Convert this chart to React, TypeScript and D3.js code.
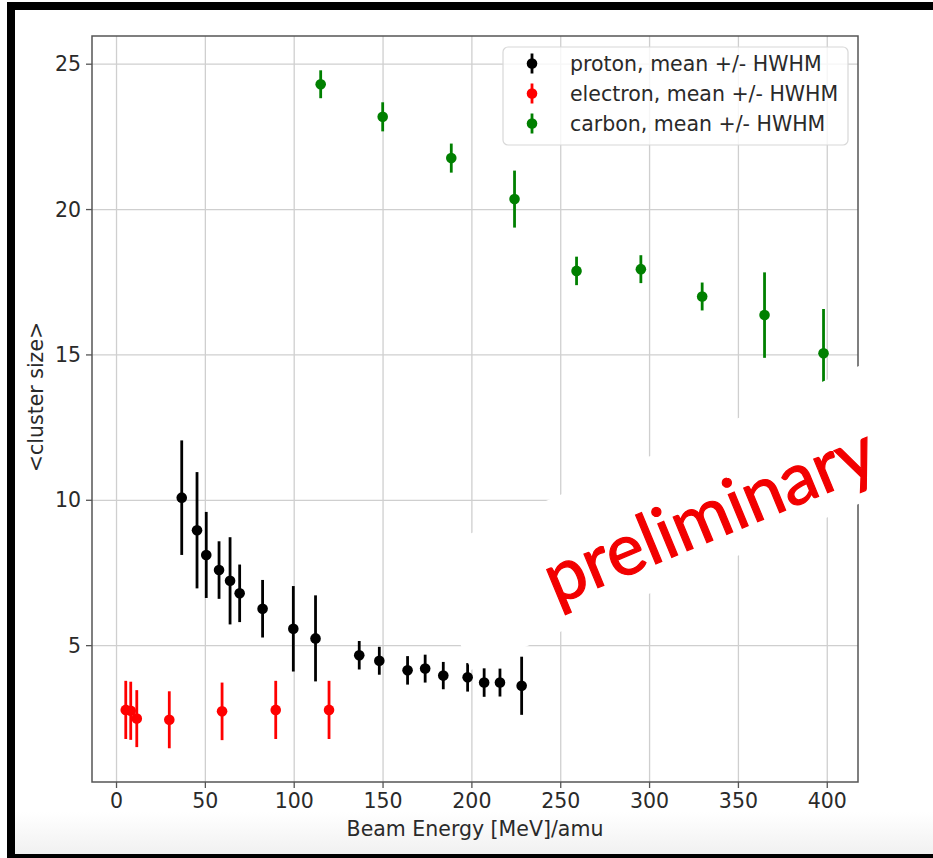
import React from "react";
import * as d3 from "d3";

// Mean cluster size vs. beam energy, with half width at half maximum as error
const protonEnergy = [36.7, 45.3, 50.5, 57.7, 63.9, 69.3, 82.2, 99.5, 112.0, 136.6, 147.9, 163.8, 173.7, 183.9, 197.6, 206.9, 215.8, 228.0];
const protonMean = [10.09, 8.97, 8.12, 7.6, 7.23, 6.8, 6.27, 5.58, 5.25, 4.67, 4.48, 4.15, 4.21, 3.97, 3.91, 3.73, 3.73, 3.62];
const protonHWHM = [1.97, 2.0, 1.48, 0.99, 1.5, 0.99, 0.99, 1.47, 1.48, 0.49, 0.48, 0.49, 0.48, 0.47, 0.49, 0.49, 0.48, 1.0];

const electronEnergy = [5.2, 8.0, 11.4, 29.7, 59.4, 89.6, 119.6];
const electronMean = [2.79, 2.76, 2.49, 2.45, 2.74, 2.79, 2.79];
const electronHWHM = [1.0, 1.0, 0.98, 0.98, 0.99, 1.0, 1.0];

const carbonEnergy = [114.9, 149.8, 188.4, 224.0, 258.9, 295.1, 329.6, 364.7, 397.9];
const carbonMean = [24.31, 23.19, 21.77, 20.36, 17.89, 17.95, 17.01, 16.37, 15.06];
const carbonHWHM = [0.48, 0.5, 0.5, 0.98, 0.49, 0.48, 0.48, 1.47, 1.52];

const xTicks = [0, 50, 100, 150, 200, 250, 300, 350, 400];
const yTicks = [5, 10, 15, 20, 25];

const seriesNames = ["proton, mean +/- HWHM", "electron, mean +/- HWHM", "carbon, mean +/- HWHM"];
const seriesColors = ["#000000", "#ff0000", "#008000"];

const W = 933;
const H = 858;
const plot = { left: 92, right: 858, top: 36, bottom: 782 };
const FONT = "'DejaVu Sans', sans-serif";

export default function App() {
  const x = d3.scaleLinear().domain([-13.8, 417.3]).range([plot.left, plot.right]);
  const y = d3.scaleLinear().domain([0.31, 25.97]).range([plot.bottom, plot.top]);

  const series = [
    { e: protonEnergy, m: protonMean, h: protonHWHM },
    { e: electronEnergy, m: electronMean, h: electronHWHM },
    { e: carbonEnergy, m: carbonMean, h: carbonHWHM },
  ];

  // white label panel laid over the lower right part of the axes
  const panel = [
    [423, 554],
    [910, 344],
    [910, 482],
    [471, 670],
  ];
  const panelPath = d3.line()(panel as [number, number][]) + "Z";

  const legendRows = [63.5, 93.5, 123.5];

  return (
    <svg width={W} height={H} style={{ position: "absolute", left: 0, top: 0, display: "block" }}>
      <defs>
        <linearGradient id="floor" x1="0" y1="0" x2="0" y2="1">
          <stop offset="0" stopColor="#ffffff" />
          <stop offset="1" stopColor="#f1f1f1" />
        </linearGradient>
        <clipPath id="axesClip">
          <rect x={plot.left} y={plot.top} width={plot.right - plot.left} height={plot.bottom - plot.top} />
        </clipPath>
      </defs>
      <rect x={0} y={0} width={W} height={H} fill="#ffffff" />
      <rect x={15} y={812} width={W - 15} height={42} fill="url(#floor)" />

      {/* frame */}
      <rect x={7} y={2} width={W - 7} height={8} fill="#000" />
      <rect x={7} y={2} width={8} height={H - 2} fill="#000" />
      <rect x={7} y={854} width={W - 7} height={4} fill="#000" />

      {/* grid */}
      <g stroke="#cfcfcf" strokeWidth={1.3}>
        {xTicks.map((t) => (
          <line key={"gx" + t} x1={x(t)} x2={x(t)} y1={plot.top} y2={plot.bottom} />
        ))}
        {yTicks.map((t) => (
          <line key={"gy" + t} x1={plot.left} x2={plot.right} y1={y(t)} y2={y(t)} />
        ))}
      </g>

      {/* error bars and means */}
      <g clipPath="url(#axesClip)">
        {series.map((s, si) => (
          <g key={"s" + si} fill={seriesColors[si]} stroke={seriesColors[si]}>
            {s.e.map((e, i) => (
              <g key={i}>
                <line x1={x(e)} x2={x(e)} y1={y(s.m[i] - s.h[i])} y2={y(s.m[i] + s.h[i])} strokeWidth={2.8} />
                <circle cx={x(e)} cy={y(s.m[i])} r={5.3} stroke="none" />
              </g>
            ))}
          </g>
        ))}
      </g>

      {/* spines */}
      <rect
        x={plot.left}
        y={plot.top}
        width={plot.right - plot.left}
        height={plot.bottom - plot.top}
        fill="none"
        stroke="#555"
        strokeWidth={1.5}
      />

      {/* x axis */}
      <g fontFamily={FONT} fontSize={20.5} fill="#2a2a2a">
        {xTicks.map((t) => (
          <g key={"tx" + t}>
            <line x1={x(t)} x2={x(t)} y1={plot.bottom} y2={plot.bottom + 6} stroke="#555" strokeWidth={1.3} />
            <text x={x(t)} y={plot.bottom + 26} textAnchor="middle">
              {t}
            </text>
          </g>
        ))}
        <text x={(plot.left + plot.right) / 2} y={plot.bottom + 54} textAnchor="middle">
          Beam Energy [MeV]/amu
        </text>
      </g>

      {/* y axis */}
      <g fontFamily={FONT} fontSize={20.5} fill="#2a2a2a">
        {yTicks.map((t) => (
          <g key={"ty" + t}>
            <line x1={plot.left - 6} x2={plot.left} y1={y(t)} y2={y(t)} stroke="#555" strokeWidth={1.3} />
            <text x={plot.left - 11} y={y(t)} dy="0.35em" textAnchor="end">
              {t}
            </text>
          </g>
        ))}
        <text transform={`translate(43, ${(plot.top + plot.bottom) / 2 - 12}) rotate(-90)`} textAnchor="middle">
          {"<cluster size>"}
        </text>
      </g>

      {/* legend */}
      <g fontFamily={FONT} fontSize={20.5}>
        <rect x={503} y={47} width={345} height={98} rx={5} fill="#fff" fillOpacity={0.8} stroke="#d8d8d8" strokeWidth={1.2} />
        {seriesNames.map((name, i) => (
          <g key={"lg" + i}>
            <line
              x1={532}
              x2={532}
              y1={legendRows[i] - 10}
              y2={legendRows[i] + 10}
              stroke={seriesColors[i]}
              strokeWidth={2.8}
            />
            <circle cx={532} cy={legendRows[i]} r={5.3} fill={seriesColors[i]} />
            <text x={570} y={legendRows[i]} dy="0.35em" fill="#2a2a2a">
              {name}
            </text>
          </g>
        ))}
      </g>

      {/* overlay panel with watermark */}
      <path d={panelPath} fill="#ffffff" />
      <text
        transform="translate(708, 512) rotate(-22.5)"
        textAnchor="middle"
        dominantBaseline="central"
        fontFamily="Lato, 'Open Sans', sans-serif"
        fontSize={72}
        fill="#f20000"
        stroke="#f20000"
        strokeWidth={1.2}
        textLength={352}
        lengthAdjust="spacingAndGlyphs"
      >
        preliminary
      </text>
    </svg>
  );
}
